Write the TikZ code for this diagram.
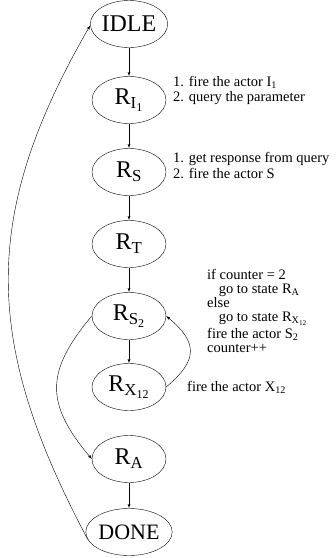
\documentclass[tikz,border=0pt]{standalone}
\usepackage{amsmath}
\usepackage{fontspec}
\setmainfont{Liberation Serif}
\usepackage{tikz}
\usetikzlibrary{arrows,shapes.geometric}

\begin{document}
\begin{tikzpicture}[x=1pt,y=1pt,>=latex,
  state/.style={ellipse,draw,minimum width=74pt,minimum height=47pt,inner sep=0pt,font=\fontsize{24}{26}\selectfont},
  note/.style={anchor=north west,align=left,inner sep=0pt,font=\fontsize{14.5}{14}\selectfont}]
\useasboundingbox (0,0) rectangle (336,-558);
% states, from top to bottom
\node[state] (idle) at (129,-24) {IDLE};
\node[state] (ri) at (129,-100) {R$_{\text{I}_{\text{1}}}$};
\node[state] (rs) at (129,-172) {R$_{\text{S}}$};
\node[state] (rt) at (129,-244) {R$_{\text{T}}$};
\node[state] (rstwo) at (129,-316) {R$_{\text{S}_{\text{2}}}$};
\node[state] (rx) at (129,-387) {R$_{\text{X}_{\text{12}}}$};
\node[state] (ra) at (129,-459) {R$_{\text{A}}$};
\node[state,font=\fontsize{22}{24}\selectfont] (done) at (129,-532) {DONE};
% what is done in each state
\node[note] (nri) at (173,-76) {1. fire the actor I$_{\text{1}}$\\[1.5pt]2. query the parameter};
\node[note] (nrs) at (173,-152) {1. get response from query\\[2pt]2. fire the actor S};
\node[note] (nrstwo) at (207,-269) {if counter = 2\\\hspace*{0.8em}go to state R$_{\text{A}}$\\else\\\hspace*{0.8em}go to state R$_{\text{X}_{\text{12}}}$\\[3pt]fire the actor S$_{\text{2}}$\\counter++};
\node[note] (nrx) at (187,-381) {fire the actor X$_{\text{12}}$};
% transitions
\draw[->] (idle) -- (ri);
\draw[->] (ri) -- (rs);
\draw[->] (rs) -- (rt);
\draw[->] (rt) -- (rstwo);
\draw[->] (rstwo) -- (rx);
\draw[->] (ra) -- (done);
\draw[->] (rx.east) to[out=40,in=-40,looseness=1.5] (rstwo.east);
\draw[->] (rstwo.west) to[out=230,in=130,looseness=1.3] (ra.west);
\draw[->] (done.190) to[out=118,in=240,looseness=1.1] (idle.182);
\end{tikzpicture}
\end{document}
